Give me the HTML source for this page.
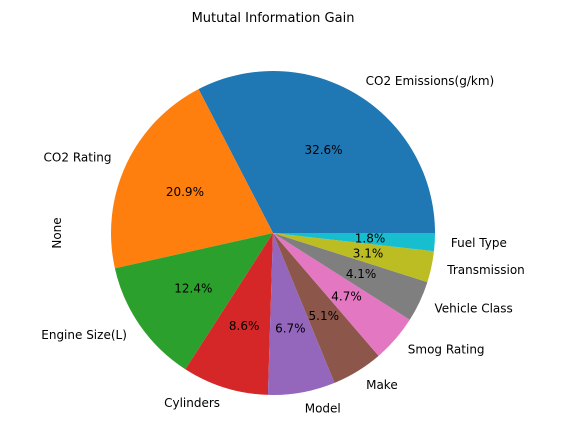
<!DOCTYPE html>
<html><head><meta charset="utf-8"><style>
body{margin:0;background:#fff;}
svg text{font-family:"DejaVu Sans","Liberation Sans",sans-serif;font-size:12px;fill:#000;}
</style></head><body>
<svg width="565" height="437" viewBox="0 0 565 437">
<text x="273" y="22" text-anchor="middle" style="font-size:13px">Mututal Information Gain</text>
<text transform="translate(61,233) rotate(-90)" text-anchor="middle">None</text>
<g id="slices"></g>
<g id="labels"></g>
</svg>
<script>
const categories=["CO2 Emissions(g/km)","CO2 Rating","Engine Size(L)","Cylinders","Model","Make","Smog Rating","Vehicle Class","Transmission","Fuel Type"];
const values=[32.6,20.9,12.4,8.6,6.7,5.1,4.7,4.1,3.1,1.8];
const pctLabels=["32.6%","20.9%","12.4%","8.6%","6.7%","5.1%","4.7%","4.1%","3.1%","1.8%"];
const colors=["#1f77b4","#ff7f0e","#2ca02c","#d62728","#9467bd","#8c564b","#e377c2","#7f7f7f","#bcbd22","#17becf"];
const cx=273,cy=233,r=162;
const ns="http://www.w3.org/2000/svg";
const total=values.reduce((a,b)=>a+b,0);
const gs=document.getElementById('slices'),gl=document.getElementById('labels');
let a0=0;
function pt(a,rr){return [cx+rr*Math.cos(a),cy-rr*Math.sin(a)];}
values.forEach((v,i)=>{
  const a1=a0+v/total*2*Math.PI;
  const p0=pt(a0,r),p1=pt(a1,r);
  const large=(a1-a0)>Math.PI?1:0;
  const p=document.createElementNS(ns,'path');
  p.setAttribute('d',`M${cx},${cy}L${p0[0]},${p0[1]}A${r},${r} 0 ${large} 0 ${p1[0]},${p1[1]}Z`);
  p.setAttribute('fill',colors[i]);
  
  
  gs.appendChild(p);
  const am=(a0+a1)/2;
  const lp=pt(am,r*1.1);
  const t=document.createElementNS(ns,'text');
  t.setAttribute('x',lp[0]);t.setAttribute('y',lp[1]+4);
  t.setAttribute('text-anchor',Math.cos(am)>=0?'start':'end');
  t.textContent=categories[i];
  
  
  gl.appendChild(t);
  const pp=pt(am,r*0.6);
  const t2=document.createElementNS(ns,'text');
  t2.setAttribute('x',pp[0]);t2.setAttribute('y',pp[1]+4);
  t2.setAttribute('text-anchor','middle');
  t2.textContent=pctLabels[i];
  
  
  gl.appendChild(t2);
  a0=a1;
});
</script>
</body></html>
